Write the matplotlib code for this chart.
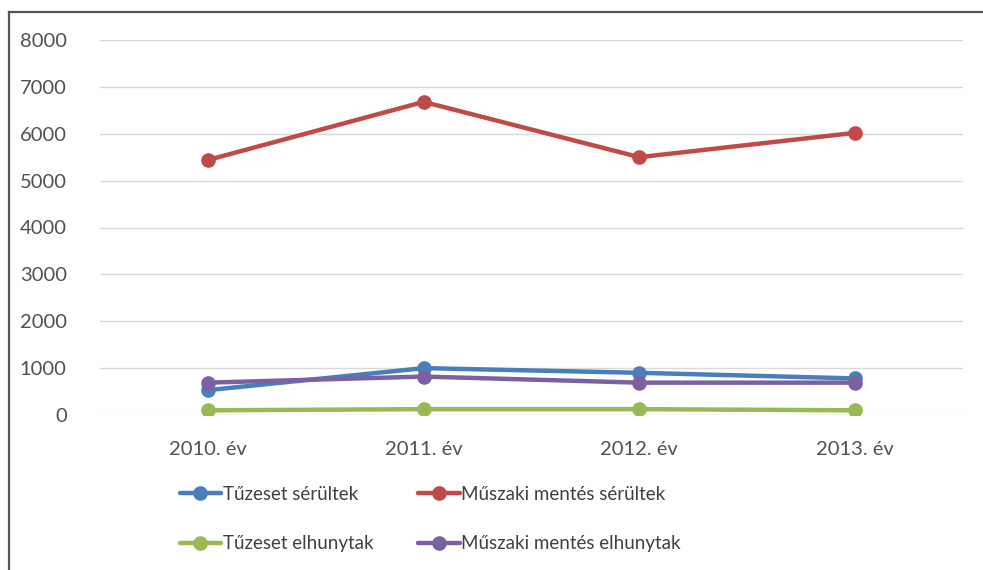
import matplotlib.pyplot as plt
from matplotlib.lines import Line2D

years = ["2010. év", "2011. év", "2012. év", "2013. év"]
tuz_serult = [530, 1000, 900, 780]
muszaki_serult = [5440, 6680, 5500, 6020]
tuz_halott = [100, 125, 125, 100]
muszaki_halott = [690, 820, 690, 690]

series = [
    ("Tűzeset sérültek", tuz_serult, "#4A7EBB"),
    ("Műszaki mentés sérültek", muszaki_serult, "#BE4B48"),
    ("Tűzeset elhunytak", tuz_halott, "#98B954"),
    ("Műszaki mentés elhunytak", muszaki_halott, "#7D60A0"),
]

plt.rcParams["font.family"] = ["Lato", "DejaVu Sans"]

fig = plt.figure(figsize=(9.83, 5.70), dpi=100)
ax = fig.add_axes([100 / 983, 1 - 415 / 570, 863 / 983, 375 / 570])

x = list(range(len(years)))
handles = {}
for name, vals, color in series:
    ln, = ax.plot(x, vals, color=color, lw=3.2, marker="o", ms=9.5,
                  solid_capstyle="round", label=name, zorder=3)
    handles[name] = ln

ax.set_xlim(-0.5, 3.5)
ax.set_ylim(0, 8000)
ax.set_yticks(range(0, 8001, 1000))
ax.set_xticks(x)
ax.set_xticklabels(years)
ax.grid(axis="y", color="#D9D9D9", lw=1)
ax.set_axisbelow(True)
for s in ax.spines.values():
    s.set_visible(False)
ax.tick_params(length=0, labelsize=14.5, colors="#505050")
ax.tick_params(axis="y", pad=24)
ax.tick_params(axis="x", pad=19)

# legend: two rows, two columns
order = ["Tűzeset sérültek", "Tűzeset elhunytak",
         "Műszaki mentés sérültek", "Műszaki mentés elhunytak"]
leg = fig.legend([handles[n] for n in order], order, ncol=2,
                 loc="upper left", bbox_to_anchor=(172 / 983, 1 - 478 / 570),
                 frameon=False, fontsize=13.5, handlelength=2.2,
                 handletextpad=0.1, columnspacing=2.4, labelspacing=1.75,
                 borderaxespad=0)
for t in leg.get_texts():
    t.set_color("#404040")

# frame edges (left and top only)
fig.add_artist(Line2D([8.5 / 983, 8.5 / 983], [0, 1 - 12 / 570],
                      transform=fig.transFigure, color="#555555", lw=1.6))
fig.add_artist(Line2D([8.5 / 983, 1], [1 - 12 / 570, 1 - 12 / 570],
                      transform=fig.transFigure, color="#555555", lw=1.6))

fig.savefig("out.png", dpi=100)
